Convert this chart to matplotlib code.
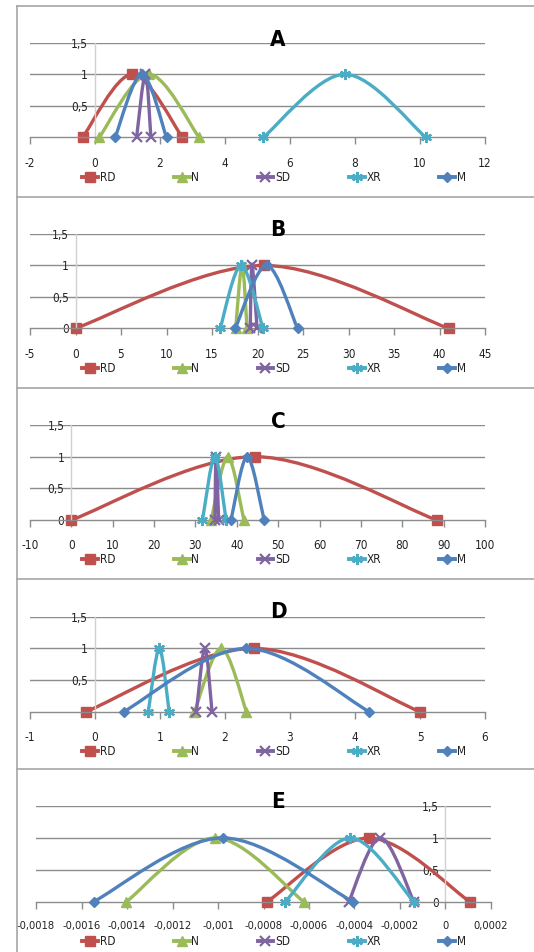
import matplotlib
matplotlib.use("Agg")
import matplotlib.pyplot as plt
from matplotlib.path import Path
from matplotlib.patches import PathPatch
from matplotlib.lines import Line2D

# ---------------- data ----------------
series = ["RD", "N", "SD", "XR", "M"]
membership = [0, 1, 0]

panel_titles = ["A", "B", "C", "D", "E"]

# triangular fuzzy numbers (left, peak, right) per series, in series order
A_left = [-0.38, 0.13, 1.28, 5.18, 0.62]
A_peak = [1.15, 1.66, 1.55, 7.69, 1.44]
A_right = [2.69, 3.20, 1.72, 10.18, 2.20]

B_left = [0.0, 17.6, 19.2, 15.9, 17.55]
B_peak = [20.7, 18.3, 19.4, 18.2, 21.0]
B_right = [41.0, 18.85, 19.95, 20.6, 24.4]

C_left = [0.0, 33.8, 34.7, 31.7, 38.6]
C_peak = [44.3, 37.8, 35.0, 34.7, 42.5]
C_right = [88.3, 41.7, 35.6, 37.4, 46.6]

D_left = [-0.14, 1.53, 1.56, 0.82, 0.44]
D_peak = [2.44, 1.94, 1.69, 0.99, 2.33]
D_right = [5.00, 2.33, 1.80, 1.14, 4.22]

E_left = [-0.000784, -0.001403, -0.000425, -0.000704, -0.001547]
E_peak = [-0.000337, -0.001012, -0.000286, -0.000418, -0.000979]
E_right = [0.000107, -0.000623, -0.000139, -0.000139, -0.000406]

A_xticks = [-2, 0, 2, 4, 6, 8, 10, 12]
A_xticklabels = ["-2", "0", "2", "4", "6", "8", "10", "12"]
B_xticks = [-5, 0, 5, 10, 15, 20, 25, 30, 35, 40, 45]
B_xticklabels = ["-5", "0", "5", "10", "15", "20", "25", "30", "35", "40", "45"]
C_xticks = [-10, 0, 10, 20, 30, 40, 50, 60, 70, 80, 90, 100]
C_xticklabels = ["-10", "0", "10", "20", "30", "40", "50", "60", "70", "80", "90", "100"]
D_xticks = [-1, 0, 1, 2, 3, 4, 5, 6]
D_xticklabels = ["-1", "0", "1", "2", "3", "4", "5", "6"]
E_xticks = [-0.0018, -0.0016, -0.0014, -0.0012, -0.001, -0.0008, -0.0006,
            -0.0004, -0.0002, 0, 0.0002]
E_xticklabels = ["-0,0018", "-0,0016", "-0,0014", "-0,0012", "-0,001", "-0,0008",
                 "-0,0006", "-0,0004", "-0,0002", "0", "0,0002"]

y_ticks = [0, 0.5, 1, 1.5]
y_ticklabels = ["0", "0,5", "1", "1,5"]

# ---------------- style ----------------
colors = ["#C0504D", "#9BBB59", "#8064A2", "#4BACC6", "#4F81BD"]
markers = ["s", "^", "x", (6, 2, 0), "D"]
msizes = [7.5, 7.5, 7, 8, 5.5]

plt.rcParams["font.family"] = ["DejaVu Sans"]
plt.rcParams["font.stretch"] = "condensed"

W, H = 534, 952
fig = plt.figure(figsize=(W / 100, H / 100), dpi=100)

# pixel layout: (x_left, x_right, y_top(1.5), y_bottom(0)) for plot areas
layout = [
    (30, 485, 42.7, 137.3),
    (30, 485, 234, 328.3),
    (30, 485, 425, 520),
    (30, 485, 616.7, 711.7),
    (36, 491, 806, 901.7),
]
title_y = [40.5, 230.5, 421.7, 612.5, 802.5]
box_tops = [6, 197, 388, 579, 769]


def smooth_path(xs, ys):
    """Excel-like smoothed line through points as cubic Bezier path."""
    n = len(xs)
    verts = [(xs[0], ys[0])]
    codes = [Path.MOVETO]
    for i in range(n - 1):
        ip = max(i - 1, 0)
        inn = min(i + 2, n - 1)
        c1 = (xs[i] + (xs[i + 1] - xs[ip]) / 6.0, ys[i] + (ys[i + 1] - ys[ip]) / 6.0)
        c2 = (xs[i + 1] - (xs[inn] - xs[i]) / 6.0, ys[i + 1] - (ys[inn] - ys[i]) / 6.0)
        verts += [c1, c2, (xs[i + 1], ys[i + 1])]
        codes += [Path.CURVE4] * 3
    return Path(verts, codes)


panels = [
    (A_left, A_peak, A_right, A_xticks, A_xticklabels),
    (B_left, B_peak, B_right, B_xticks, B_xticklabels),
    (C_left, C_peak, C_right, C_xticks, C_xticklabels),
    (D_left, D_peak, D_right, D_xticks, D_xticklabels),
    (E_left, E_peak, E_right, E_xticks, E_xticklabels),
]

grid_col = "#8C8C8C"
for k, (lefts, peaks, rights, xt, xtl) in enumerate(panels):
    xl, xr, yt, yb = layout[k]
    ax = fig.add_axes([xl / W, 1 - yb / H, (xr - xl) / W, (yb - yt) / H])
    ax.set_xlim(xt[0], xt[-1])
    ax.set_ylim(0, 1.5)
    for s in ["top", "right"]:
        ax.spines[s].set_visible(False)
    ax.spines["bottom"].set_color(grid_col)
    ax.spines["bottom"].set_linewidth(1.0)
    ax.spines["left"].set_position(("data", 0))
    ax.spines["left"].set_color("#D0D0D0")
    ax.spines["left"].set_linewidth(1.0)
    ax.set_xticks(xt)
    ax.set_xticklabels(xtl)
    ax.set_yticks(y_ticks)
    ax.set_yticklabels(y_ticklabels)
    xls = 8 if k == 4 else 8.5
    ax.tick_params(axis="x", length=5, width=1, color=grid_col, pad=9,
                   labelsize=xls, labelcolor="#222222")
    ax.tick_params(axis="y", length=0, pad=5, labelsize=8.5, labelcolor="#222222")
    for yv in y_ticks[1:]:
        ax.axhline(yv, color=grid_col, lw=1.0, zorder=0.5)
    ax.patch.set_alpha(0)

    handles = []
    for i, name in enumerate(series):
        xs = [lefts[i], peaks[i], rights[i]]
        p = PathPatch(smooth_path(xs, membership), fill=False, edgecolor=colors[i],
                      lw=2.4, zorder=2 + i, clip_on=False, capstyle="round")
        ax.add_patch(p)
        mk_kw = dict(color=colors[i], marker=markers[i], markersize=msizes[i],
                     markeredgewidth=1.6 if markers[i] in ("x", (6, 2, 0)) else 1.0)
        ax.plot(xs, membership, linestyle="none", zorder=2.5 + i, clip_on=False, **mk_kw)
        handles.append(Line2D([], [], lw=2.8, **mk_kw))

    # legend
    lx0, lx1 = 82, 466
    leg_y = 40
    ax.legend(handles, series, ncol=5, loc="center", mode="expand",
              bbox_to_anchor=((lx0 - xl) / (xr - xl), -leg_y / (yb - yt),
                              (lx1 - lx0) / (xr - xl), 0),
              frameon=False, fontsize=8.5, handlelength=1.35, handletextpad=0.15,
              borderaxespad=0, borderpad=0, labelcolor="#222222")

    fig.text(278 / W, 1 - title_y[k] / H, panel_titles[k], ha="center", va="center",
             fontsize=16, fontweight="bold", color="black")

# chart borders
border_col = "#A6A6A6"
fig.add_artist(Line2D([16.5 / W, 16.5 / W], [0, 1 - box_tops[0] / H],
                      transform=fig.transFigure, color=border_col, lw=1.2))
for bt in box_tops:
    fig.add_artist(Line2D([16.5 / W, 1], [1 - bt / H, 1 - bt / H],
                          transform=fig.transFigure, color=border_col, lw=1.2))

fig.savefig("out.png", dpi=100)
